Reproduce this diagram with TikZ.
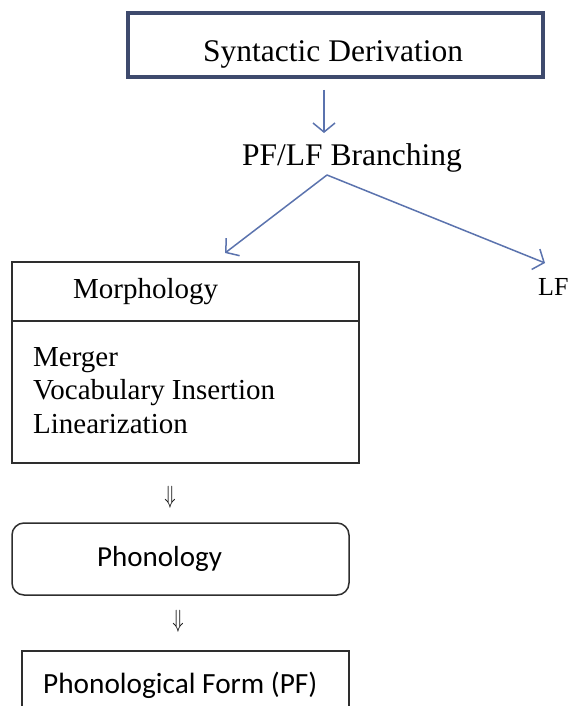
\documentclass[tikz,border=0pt]{standalone}
\usepackage{fontspec}
\usepackage{graphicx}
\setmainfont{Liberation Serif}
\newfontfamily\calibri{Carlito}
\usetikzlibrary{arrows.meta}
\definecolor{navy}{HTML}{3E4A6D}
\definecolor{arrowblue}{HTML}{5B73AE}
\definecolor{boxgray}{HTML}{2E2E2E}
\begin{document}
\begin{tikzpicture}[x=1pt,y=-1pt,
  txt/.style={inner sep=0pt, anchor=base west, text=black},
  bigserif/.style={font=\fontsize{31.5}{36}\selectfont},
  midserif/.style={font=\fontsize{29}{33}\selectfont},
  sanslab/.style={font=\calibri\fontsize{29.3}{33}\selectfont},
  blueline/.style={draw=arrowblue, line width=1.5pt, -{Straight Barb[length=9pt,width=22pt,line width=1.5pt]}},
  synbox/.style={draw=navy, line width=4pt, inner sep=0pt},
  plainbox/.style={draw=boxgray, line width=1.5pt, inner sep=0pt},
  dnarrow/.style={inner sep=0pt, font=\fontsize{38}{40}\selectfont}]
\clip (0,0) rectangle (568,706);
\fill[white] (0,0) rectangle (568,706);
% top box
\node[synbox, minimum width=415pt, minimum height=64pt] (syn) at (335.5,45) {};
\node[txt, bigserif] (syntxt) at (203,62) {Syntactic Derivation};
\coordinate (a1) at (324,90);
\coordinate (a2) at (324,133);
\draw[blueline] (a1) -- (a2);
\node[txt, bigserif] (pflf) at (242,165) {PF/LF Branching};
\coordinate (br) at (327,175);
\coordinate (toM) at (225,253);
\coordinate (toLF) at (545,263);
\draw[blueline] (br) -- (toM);
\draw[blueline] (br) -- (toLF);
\node[txt, font=\fontsize{26}{30}\selectfont] (lf) at (538,295) {LF};
% morphology box
\node[plainbox, minimum width=347pt, minimum height=201pt] (morph) at (185.5,362.5) {};
\draw[draw=boxgray, line width=1.5pt] (morph.west |- 0,321) -- (morph.east |- 0,321);
\node[txt, midserif] (mtitle) at (73,298) {Morphology};
\node[txt, midserif] (m1) at (33,366) {Merger};
\node[txt, midserif] (m2) at (33,399) {Vocabulary Insertion};
\node[txt, midserif] (m3) at (33,433) {Linearization};
% arrows
\node[dnarrow] (d1) at (170,497) {\scalebox{0.75}[1]{$\Downarrow$}};
% phonology box
\node[plainbox, rounded corners=12pt, minimum width=337pt, minimum height=72pt] (phon) at (180.5,559) {};
\node[txt, font=\calibri\fontsize{29}{33}\selectfont] (phontxt) at (97,566) {Phonology};
\node[dnarrow] (d2) at (178,621) {\scalebox{0.75}[1]{$\Downarrow$}};
% PF box
\node[plainbox, minimum width=327pt, minimum height=100pt] (pf) at (185.5,701) {};
\node[txt, sanslab] (pftxt) at (43,693) {Phonological Form (PF)};
\end{tikzpicture}
\end{document}
